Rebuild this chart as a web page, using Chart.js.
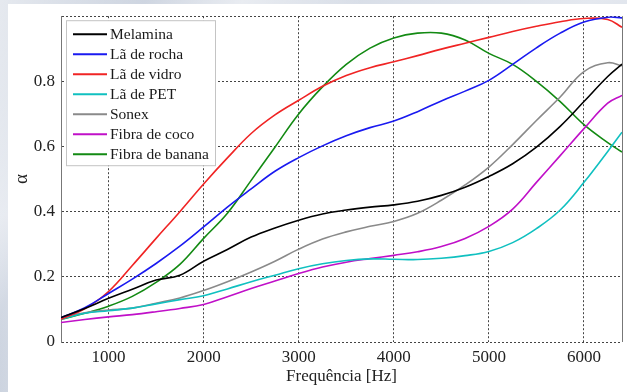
<!DOCTYPE html>
<html>
<head>
<meta charset="utf-8">
<script src="https://cdn.jsdelivr.net/npm/chart.js@4.4.0/dist/chart.umd.min.js"></script>
<style>
    html, body { margin: 0; padding: 0; }
    body {
        width: 627px;
        height: 392px;
        overflow: hidden;
        background:
            linear-gradient(115deg, rgba(255,255,255,0.55) 0%, rgba(255,255,255,0) 18%, rgba(255,255,255,0.5) 30%, rgba(255,255,255,0) 45%),
            linear-gradient(160deg, #c7cfdc 0%, #e4e8ef 35%, #b9c3d3 70%, #dde2ea 100%);
    }
    #wrap { position: absolute; left: 0; top: 0; width: 627px; height: 392px; }
</style>
</head>
<body>
<div id="wrap"><canvas id="absChart" width="627" height="392"></canvas></div>
<script>
// frequency (Hz)
const freqs = [500, 750, 1000, 1250, 1500, 1750, 2000, 2250, 2500, 2750, 3000, 3250, 3500,
    3750, 4000, 4250, 4500, 4750, 5000, 5250, 5500, 5750, 6000, 6250, 6400];

// absorption coefficient per material
const melamina = [0.075, 0.103, 0.134, 0.162, 0.19, 0.205, 0.248, 0.284, 0.322, 0.35, 0.374, 0.393, 0.405,
    0.414, 0.421, 0.432, 0.45, 0.475, 0.508, 0.547, 0.598, 0.662, 0.738, 0.815, 0.853];
const laRocha = [0.075, 0.105, 0.149, 0.193, 0.241, 0.294, 0.353, 0.414, 0.47, 0.524, 0.566, 0.602, 0.633,
    0.658, 0.678, 0.707, 0.74, 0.77, 0.803, 0.852, 0.903, 0.948, 0.982, 0.997, 0.995];
const laVidro = [0.07, 0.102, 0.155, 0.235, 0.318, 0.40, 0.485, 0.565, 0.64, 0.697, 0.742, 0.785, 0.818,
    0.842, 0.86, 0.879, 0.899, 0.917, 0.935, 0.953, 0.969, 0.983, 0.993, 0.99, 0.966];
const laPET = [0.07, 0.088, 0.096, 0.104, 0.117, 0.13, 0.142, 0.163, 0.185, 0.205, 0.225, 0.24, 0.25,
    0.255, 0.254, 0.253, 0.257, 0.265, 0.278, 0.305, 0.348, 0.405, 0.49, 0.585, 0.644];
const sonex = [0.075, 0.09, 0.098, 0.104, 0.119, 0.135, 0.158, 0.185, 0.215, 0.248, 0.285, 0.316, 0.338,
    0.355, 0.37, 0.395, 0.435, 0.482, 0.537, 0.606, 0.68, 0.752, 0.83, 0.857, 0.848];
const fibraCoco = [0.06, 0.069, 0.077, 0.084, 0.093, 0.103, 0.115, 0.139, 0.164, 0.187, 0.21, 0.23, 0.245,
    0.256, 0.266, 0.277, 0.293, 0.318, 0.355, 0.408, 0.49, 0.572, 0.655, 0.733, 0.757];
const fibraBanana = [0.07, 0.088, 0.11, 0.14, 0.183, 0.238, 0.318, 0.395, 0.496, 0.598, 0.70, 0.783, 0.852,
    0.902, 0.933, 0.948, 0.948, 0.927, 0.886, 0.852, 0.80, 0.738, 0.667, 0.612, 0.583];

const xTicks = [1000, 2000, 3000, 4000, 5000, 6000];
const yTicks = [0, 0.2, 0.4, 0.6, 0.8, 1];
const yTickLabels = ["0", "0.2", "0.4", "0.6", "0.8", ""];

const serif = "'Liberation Serif', 'Times New Roman', serif";

function series(label, values, color) {
    return {
        label: label,
        data: freqs.map((f, i) => ({ x: f, y: values[i] })),
        borderColor: color,
        borderWidth: 1.6,
        pointRadius: 0,
        tension: 0.4,
        fill: false,
    };
}

// white figure sheet on the marble page
const sheet = {
    id: "sheet",
    beforeDraw(chart) {
        const ctx = chart.ctx;
        ctx.save();
        ctx.fillStyle = "#ffffff";
        ctx.fillRect(8, 4, chart.width - 8, chart.height - 4);
        ctx.restore();
    },
    afterDraw(chart) {
        // solid right edge of the box
        const a = chart.chartArea;
        const ctx = chart.ctx;
        ctx.save();
        ctx.strokeStyle = "#777";
        ctx.lineWidth = 1;
        ctx.beginPath();
        ctx.moveTo(a.right + 0.5, a.top);
        ctx.lineTo(a.right + 0.5, a.bottom);
        ctx.stroke();
        ctx.restore();
    },
};

// legend box drawn inside the plot, top-left
const insideLegend = {
    id: "insideLegend",
    afterDatasetsDraw(chart) {
        const ctx = chart.ctx;
        const a = chart.chartArea;
        const x0 = a.left + 5, y0 = a.top + 4, w = 149, h = 145, rowH = 20;
        ctx.save();
        ctx.fillStyle = "#fff";
        ctx.fillRect(x0, y0, w, h);
        ctx.strokeStyle = "#c4c4c4";
        ctx.lineWidth = 1;
        ctx.strokeRect(x0 + 0.5, y0 + 0.5, w, h);
        ctx.font = "15.5px " + serif;
        ctx.textBaseline = "middle";
        chart.data.datasets.forEach((ds, i) => {
            const y = y0 + 14 + i * rowH;
            ctx.strokeStyle = ds.borderColor;
            ctx.lineWidth = 2;
            ctx.beginPath();
            ctx.moveTo(x0 + 7, y);
            ctx.lineTo(x0 + 41, y);
            ctx.stroke();
            ctx.fillStyle = "#1a1a1a";
            ctx.fillText(ds.label, x0 + 44, y + 1);
        });
        ctx.restore();
    },
};

const ctx = document.getElementById("absChart");
new Chart(ctx, {
    type: "line",
    data: {
        datasets: [
            series("Melamina", melamina, "#000000"),
            series("Lã de rocha", laRocha, "#1a1af0"),
            series("Lã de vidro", laVidro, "#f02424"),
            series("Lã de PET", laPET, "#10c0c0"),
            series("Sonex", sonex, "#8a8a8a"),
            series("Fibra de coco", fibraCoco, "#c010c8"),
            series("Fibra de banana", fibraBanana, "#138a13"),
        ],
    },
    options: {
        responsive: false,
        animation: false,
        layout: {
            padding: { left: 8, top: 16, right: 5, bottom: 0 },
        },
        plugins: {
            legend: { display: false },
            tooltip: { enabled: false },
        },
        scales: {
            x: {
                type: "linear",
                min: 500,
                max: 6400,
                afterBuildTicks: (scale) => {
                    scale.ticks = xTicks.map((v) => ({ value: v }));
                },
                afterFit: (scale) => {
                    scale.height = 50;
                },
                grid: {
                    color: "#444",
                    drawTicks: false,
                },
                border: {
                    display: false,
                    dash: [2, 2],
                },
                ticks: {
                    color: "#222",
                    padding: 5,
                    maxRotation: 0,
                    font: { family: serif, size: 17 },
                    callback: (v) => String(v),
                },
                title: {
                    display: true,
                    text: "Frequência [Hz]",
                    color: "#222",
                    font: { family: serif, size: 17 },
                    padding: { top: 0, bottom: 5 },
                },
            },
            y: {
                min: 0,
                max: 1,
                afterBuildTicks: (scale) => {
                    scale.ticks = yTicks.map((v) => ({ value: v }));
                },
                afterFit: (scale) => {
                    scale.width = 53;
                },
                grid: {
                    color: "#444",
                    drawTicks: false,
                },
                border: {
                    display: true,
                    color: "#777",
                    width: 1,
                    dash: [2, 2],
                },
                ticks: {
                    color: "#222",
                    padding: 6,
                    font: { family: serif, size: 17 },
                    callback: (v) => yTickLabels[yTicks.indexOf(v)] ?? "",
                },
                title: {
                    display: true,
                    text: "α",
                    color: "#222",
                    font: { family: serif, size: 19 },
                    padding: { top: 3, bottom: 0 },
                },
            },
        },
    },
    plugins: [sheet, insideLegend],
});
</script>
</body>
</html>
